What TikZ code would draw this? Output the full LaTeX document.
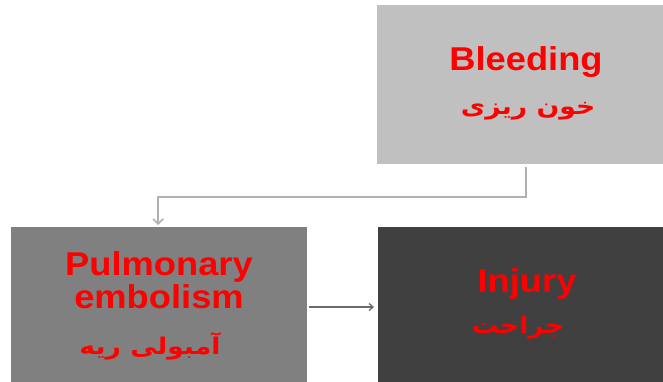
\documentclass[tikz,border=0pt]{standalone}
\usepackage{fontspec}
\setmainfont{Liberation Sans}
\newfontfamily\latfont[FakeStretch=1.1]{Liberation Sans}
\newfontfamily\arabicfont[Script=Arabic,FakeStretch=1.16]{DejaVu Sans}
\TeXXeTstate=1
\usetikzlibrary{arrows.meta}
\definecolor{boxlight}{HTML}{C0C0C0}
\definecolor{boxmid}{HTML}{808080}
\definecolor{boxdark}{HTML}{404040}
\definecolor{linelight}{HTML}{B0B0B0}
\definecolor{linedark}{HTML}{6A6A6A}
\definecolor{txtred}{HTML}{FF0000}
\begin{document}
\begin{tikzpicture}[x=1pt,y=1pt,
  box/.style={draw=none,rectangle,anchor=north west,inner sep=0pt},
  lattext/.style={anchor=base,inner sep=0pt,text=txtred,font=\latfont\fontsize{33}{36}\selectfont\bfseries},
  artext/.style={anchor=center,inner sep=0pt,text=txtred,font=\arabicfont\fontsize{23}{26}\selectfont\bfseries},
  conlight/.style={draw=linelight,line width=2pt,-{Straight Barb[length=5pt,width=10pt,line width=1.6pt]}},
  condark/.style={draw=linedark,line width=1.3pt,-{Straight Barb[length=4pt,width=7pt]}}]
\useasboundingbox[fill=white] (0,0) rectangle (663,-381);
\node[box,fill=boxlight,minimum width=286pt,minimum height=159pt] (bleed) at (377,-5) {};
\node[box,fill=boxmid,minimum width=296pt,minimum height=160pt] (pe) at (11,-227) {};
\node[box,fill=boxdark,minimum width=285pt,minimum height=160pt] (inj) at (378,-227) {};
\node[lattext] (bt1) at (526,-70) {Bleeding};
\node[artext] (bt2) at (528,-111) {\beginR خون ریزی\endR};
\node[lattext] (pt1) at (159,-275) {Pulmonary};
\node[lattext] (pt2) at (159,-308) {embolism};
\node[artext] (pt3) at (150,-346) {\beginR آمبولی ریه\endR};
\node[lattext] (it1) at (527,-292) {Injury};
\node[artext] (it2) at (518,-328) {\beginR جراحت\endR};
\draw[conlight] ([xshift=6pt,yshift=-3pt]bleed.south) -- ++(0,-30) -| ([xshift=-1pt,yshift=2pt]pe.north);
\draw[condark] ([xshift=2pt]pe.east |- 0,-307) -- ([xshift=-4pt]inj.west |- 0,-307);
\end{tikzpicture}
\end{document}
